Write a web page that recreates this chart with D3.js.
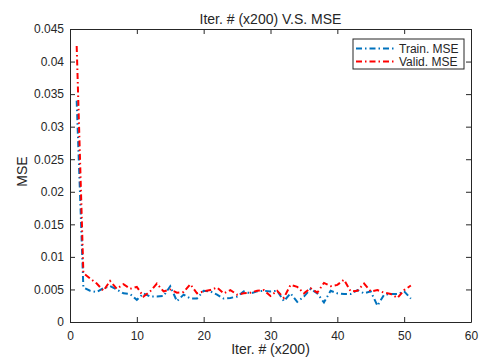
<!DOCTYPE html>
<html>
<head>
<meta charset="utf-8">
<script src="https://cdn.jsdelivr.net/npm/d3@7"></script>
<style>
  body { margin: 0; background: #fff; }
  svg text { font-family: "Liberation Sans", Arial, sans-serif; fill: #262626; }
</style>
</head>
<body>
<div id="chart"></div>
<script>
// iterations (x200)
const iters = d3.range(1, 52);

const trainMSE = [
  0.0340, 0.0053, 0.0048, 0.0046, 0.0052, 0.0055, 0.0050, 0.0044, 0.0043, 0.0034,
  0.0044, 0.0039, 0.0039, 0.0040, 0.0055, 0.0032, 0.0042, 0.0036, 0.0036, 0.0048,
  0.0047, 0.0042, 0.0036, 0.0037, 0.0039, 0.0047, 0.0044, 0.0047, 0.0048, 0.0047,
  0.0048, 0.0032, 0.0044, 0.0031, 0.0039, 0.0051, 0.0044, 0.0030, 0.0048, 0.0044,
  0.0043, 0.0043, 0.0049, 0.0044, 0.0047, 0.0025, 0.0042, 0.0043, 0.0043, 0.0047,
  0.0036
];

const validMSE = [
  0.0424, 0.0075, 0.0067, 0.0059, 0.0048, 0.0063, 0.0051, 0.0058, 0.0051, 0.0054,
  0.0039, 0.0047, 0.0059, 0.0047, 0.0050, 0.0045, 0.0046, 0.0058, 0.0044, 0.0047,
  0.0049, 0.0053, 0.0044, 0.0049, 0.0042, 0.0044, 0.0045, 0.0048, 0.0049, 0.0040,
  0.0048, 0.0037, 0.0057, 0.0054, 0.0044, 0.0052, 0.0045, 0.0060, 0.0055, 0.0057,
  0.0065, 0.0047, 0.0048, 0.0059, 0.0047, 0.0049, 0.0045, 0.0043, 0.0037, 0.0049,
  0.0056
];

const xTicks = [0, 10, 20, 30, 40, 50, 60];
const yTicks = [0, 0.005, 0.01, 0.015, 0.02, 0.025, 0.03, 0.035, 0.04, 0.045];

const series = [
  { name: 'Train. MSE', values: trainMSE, color: '#0072BD' },
  { name: 'Valid. MSE', values: validMSE, color: '#FF0000' }
];

const width = 483, height = 358;
const margin = { top: 29, right: 12, bottom: 36, left: 70 };
const w = width - margin.left - margin.right;
const h = height - margin.top - margin.bottom;
const axisColor = '#262626';

const svg = d3.select('#chart').append('svg')
  .attr('width', width)
  .attr('height', height);

const g = svg.append('g')
  .attr('transform', `translate(${margin.left},${margin.top})`);

const x = d3.scaleLinear().domain([0, 60]).range([0, w]);
const y = d3.scaleLinear().domain([0, 0.045]).range([h, 0]);

const fmtY = d => d === 0 ? '0' : String(+d.toFixed(3));

// axes, ticks pointing inward on all four sides (box on)
const styleAxis = sel => {
  sel.select('.domain').attr('stroke', axisColor).attr('stroke-width', 1);
  sel.selectAll('.tick line').attr('stroke', axisColor).attr('stroke-width', 1);
  sel.selectAll('.tick text').style('font-size', '12px').attr('fill', axisColor);
};

g.append('g')
  .attr('transform', `translate(0,${h})`)
  .call(d3.axisBottom(x).tickValues(xTicks).tickSizeInner(-5).tickSizeOuter(0).tickPadding(9).tickFormat(d3.format('d')))
  .call(styleAxis);

g.append('g')
  .call(d3.axisLeft(y).tickValues(yTicks).tickSizeInner(-5).tickSizeOuter(0).tickPadding(6).tickFormat(fmtY))
  .call(styleAxis);

g.append('g')
  .call(d3.axisTop(x).tickValues(xTicks).tickSizeInner(-5).tickSizeOuter(0).tickFormat(''))
  .call(styleAxis);

g.append('g')
  .attr('transform', `translate(${w},0)`)
  .call(d3.axisRight(y).tickValues(yTicks).tickSizeInner(-5).tickSizeOuter(0).tickFormat(''))
  .call(styleAxis);

// lines
const line = d3.line()
  .x((d, i) => x(iters[i]))
  .y(d => y(d));

series.forEach(s => {
  g.append('path')
    .datum(s.values)
    .attr('fill', 'none')
    .attr('stroke', s.color)
    .attr('stroke-width', 2)
    .attr('stroke-dasharray', '6,3,1.5,3')
    .attr('d', line);
});

// title and labels
svg.append('text')
  .attr('x', margin.left + w / 2)
  .attr('y', 24)
  .attr('text-anchor', 'middle')
  .style('font-size', '14px')
  .text('Iter. # (x200) V.S. MSE');

svg.append('text')
  .attr('x', margin.left + w / 2)
  .attr('y', 354)
  .attr('text-anchor', 'middle')
  .style('font-size', '14px')
  .text('Iter. # (x200)');

svg.append('text')
  .attr('transform', `translate(27,${margin.top + h / 2 - 4}) rotate(-90)`)
  .attr('text-anchor', 'middle')
  .style('font-size', '14px')
  .text('MSE');

// legend
const legend = svg.append('g')
  .attr('transform', 'translate(353,39)');

legend.append('rect')
  .attr('width', 111)
  .attr('height', 30)
  .attr('fill', '#fff')
  .attr('stroke', axisColor)
  .attr('stroke-width', 1);

const items = legend.selectAll('g.item')
  .data(series)
  .join('g')
  .attr('class', 'item')
  .attr('transform', (d, i) => `translate(0,${9.5 + i * 13})`);

items.append('line')
  .attr('x1', 3)
  .attr('x2', 42)
  .attr('stroke', d => d.color)
  .attr('stroke-width', 2)
  .attr('stroke-dasharray', '6,3,1.5,3');

items.append('text')
  .attr('x', 46)
  .attr('dy', '0.35em')
  .style('font-size', '12px')
  .text(d => d.name);
</script>
</body>
</html>
